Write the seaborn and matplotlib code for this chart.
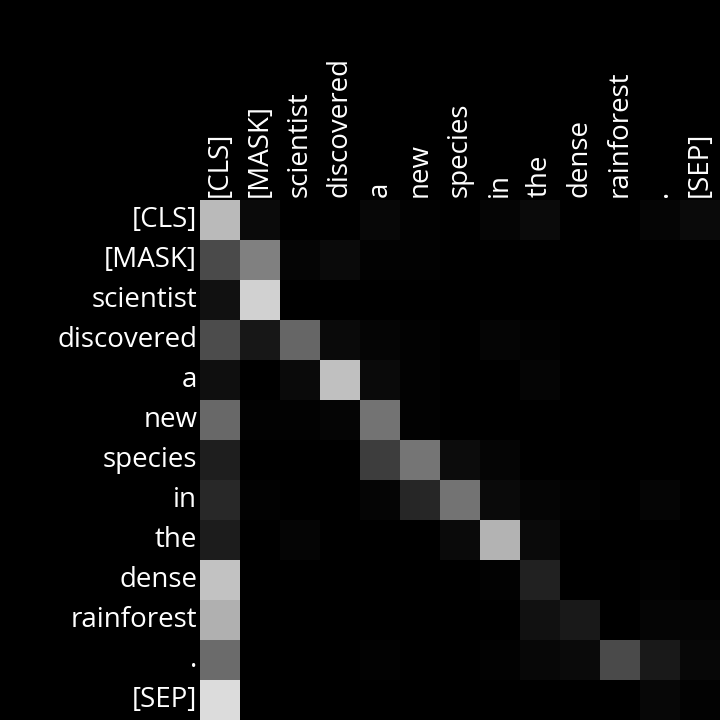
import numpy as np
import matplotlib
matplotlib.use("Agg")
import matplotlib.pyplot as plt
import seaborn as sns

tokens = ["[CLS]", "[MASK]", "scientist", "discovered", "a", "new", "species",
          "in", "the", "dense", "rainforest", ".", "[SEP]"]

# attention weights (gray level / 255), one list per query token
row_cls = [0.73, 0.04, 0.00, 0.00, 0.03, 0.01, 0.00, 0.02, 0.04, 0.00, 0.00, 0.02, 0.04]
row_mask = [0.29, 0.50, 0.02, 0.04, 0.01, 0.01, 0.00, 0.00, 0.00, 0.00, 0.00, 0.00, 0.00]
row_scientist = [0.07, 0.82, 0.00, 0.00, 0.00, 0.00, 0.00, 0.00, 0.00, 0.00, 0.00, 0.00, 0.00]
row_discovered = [0.30, 0.09, 0.40, 0.04, 0.02, 0.01, 0.00, 0.02, 0.01, 0.00, 0.00, 0.00, 0.00]
row_a = [0.06, 0.00, 0.04, 0.75, 0.04, 0.01, 0.00, 0.00, 0.02, 0.00, 0.00, 0.00, 0.00]
row_new = [0.41, 0.01, 0.01, 0.02, 0.45, 0.01, 0.00, 0.00, 0.00, 0.00, 0.00, 0.00, 0.00]
row_species = [0.12, 0.00, 0.00, 0.00, 0.24, 0.46, 0.05, 0.02, 0.00, 0.00, 0.00, 0.00, 0.00]
row_in = [0.16, 0.01, 0.00, 0.00, 0.02, 0.15, 0.45, 0.04, 0.02, 0.01, 0.00, 0.02, 0.00]
row_the = [0.11, 0.00, 0.02, 0.00, 0.00, 0.00, 0.04, 0.70, 0.04, 0.00, 0.00, 0.00, 0.00]
row_dense = [0.76, 0.00, 0.00, 0.00, 0.00, 0.00, 0.00, 0.01, 0.13, 0.00, 0.00, 0.01, 0.00]
row_rainforest = [0.69, 0.00, 0.00, 0.00, 0.00, 0.00, 0.00, 0.00, 0.07, 0.10, 0.00, 0.02, 0.02]
row_period = [0.42, 0.00, 0.00, 0.00, 0.01, 0.00, 0.00, 0.01, 0.03, 0.04, 0.29, 0.10, 0.03]
row_sep = [0.86, 0.00, 0.00, 0.00, 0.00, 0.00, 0.00, 0.00, 0.00, 0.00, 0.00, 0.03, 0.01]

attn = np.array([row_cls, row_mask, row_scientist, row_discovered, row_a, row_new,
                 row_species, row_in, row_the, row_dense, row_rainforest,
                 row_period, row_sep])

sns.set_style("dark")
plt.rcParams["font.family"] = ["Open Sans", "DejaVu Sans"]

fig = plt.figure(figsize=(7.2, 7.2), dpi=100, facecolor="black")
ax = fig.add_axes([200 / 720, 0, 520 / 720, 520 / 720])
sns.heatmap(attn, ax=ax, cmap="gray", vmin=0, vmax=1, cbar=False,
            xticklabels=tokens, yticklabels=tokens, square=True)
ax.xaxis.tick_top()
ax.tick_params(length=0, pad=2, colors="white", labelsize=20)
plt.setp(ax.get_xticklabels(), rotation=90)
plt.setp(ax.get_yticklabels(), rotation=0)
for s in ax.spines.values():
    s.set_visible(False)

fig.savefig("out.png", dpi=100, facecolor="black")
